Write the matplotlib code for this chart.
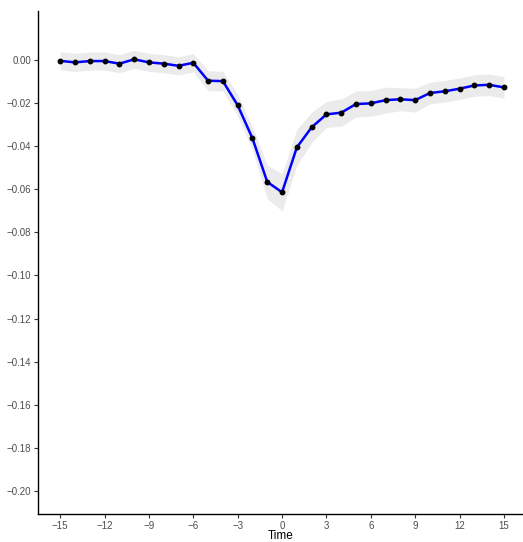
import matplotlib
matplotlib.use("Agg")
import matplotlib.pyplot as plt

plt.rcParams['font.family'] = ['Liberation Sans', 'DejaVu Sans']

time = list(range(-15, 16))
estimate = [-0.0006, -0.0013, -0.0007, -0.0007, -0.0019, 0.0001, -0.0013, -0.0019, -0.0029, -0.0015,
            -0.0098, -0.0100, -0.0212, -0.0365, -0.0567, -0.0615, -0.0407, -0.0314, -0.0254, -0.0246,
            -0.0206, -0.0203, -0.0188, -0.0184, -0.0188, -0.0155, -0.0147, -0.0135, -0.0120, -0.0117, -0.0129]
ci_upper = [0.0036, 0.0029, 0.0035, 0.0035, 0.0023, 0.0043, 0.0029, 0.0023, 0.0013, 0.0027,
            -0.0052, -0.0055, -0.0162, -0.0312, -0.0489, -0.0529, -0.0323, -0.0244, -0.0194, -0.0183,
            -0.0146, -0.0143, -0.0128, -0.0131, -0.0133, -0.0105, -0.0097, -0.0085, -0.0070, -0.0067, -0.0079]
ci_lower = [-0.0048, -0.0055, -0.0049, -0.0049, -0.0061, -0.0041, -0.0055, -0.0061, -0.0071, -0.0057,
            -0.0144, -0.0145, -0.0262, -0.0418, -0.0645, -0.0701, -0.0491, -0.0384, -0.0314, -0.0309,
            -0.0266, -0.0263, -0.0248, -0.0237, -0.0243, -0.0205, -0.0197, -0.0185, -0.0170, -0.0167, -0.0179]
x_ticks = [-15, -12, -9, -6, -3, 0, 3, 6, 9, 12, 15]
y_ticks = [0.00, -0.02, -0.04, -0.06, -0.08, -0.10, -0.12, -0.14, -0.16, -0.18, -0.20]

fig = plt.figure(figsize=(5.23, 5.42), dpi=100)
ax = fig.add_axes([38/523, 1-514.3/542, 1-38/523, (514.3-11)/542])

ax.fill_between(time, ci_lower, ci_upper, color='#ebebeb', linewidth=0)
ax.plot(time, estimate, color='#0000ff', lw=1.8, zorder=3)
ax.plot(time, estimate, 'o', color='black', ms=3.2, zorder=4)

ax.set_xlim(-16.5, 16.29)
ax.set_ylim(-0.2107, 0.0225)
ax.set_xticks(x_ticks)
ax.set_xticklabels([str(t).replace('-', '\u2212') for t in x_ticks])
ax.set_yticks(y_ticks)
ax.set_yticklabels([f"{v:.2f}".replace('-', '\u2212') if v != 0 else "0.00" for v in y_ticks])
ax.tick_params(axis='both', length=3, width=0.8, color='#333333', labelcolor='#4d4d4d',
               labelsize=7, pad=2)
for s in ['top', 'right']:
    ax.spines[s].set_visible(False)
for s in ['left', 'bottom']:
    ax.spines[s].set_linewidth(1.0)
    ax.spines[s].set_color('black')
ax.set_xlabel('Time', fontsize=8.5, labelpad=0, color='black')
ax.xaxis.set_label_coords(0.5, -0.032)

fig.savefig('out.png', dpi=100)
